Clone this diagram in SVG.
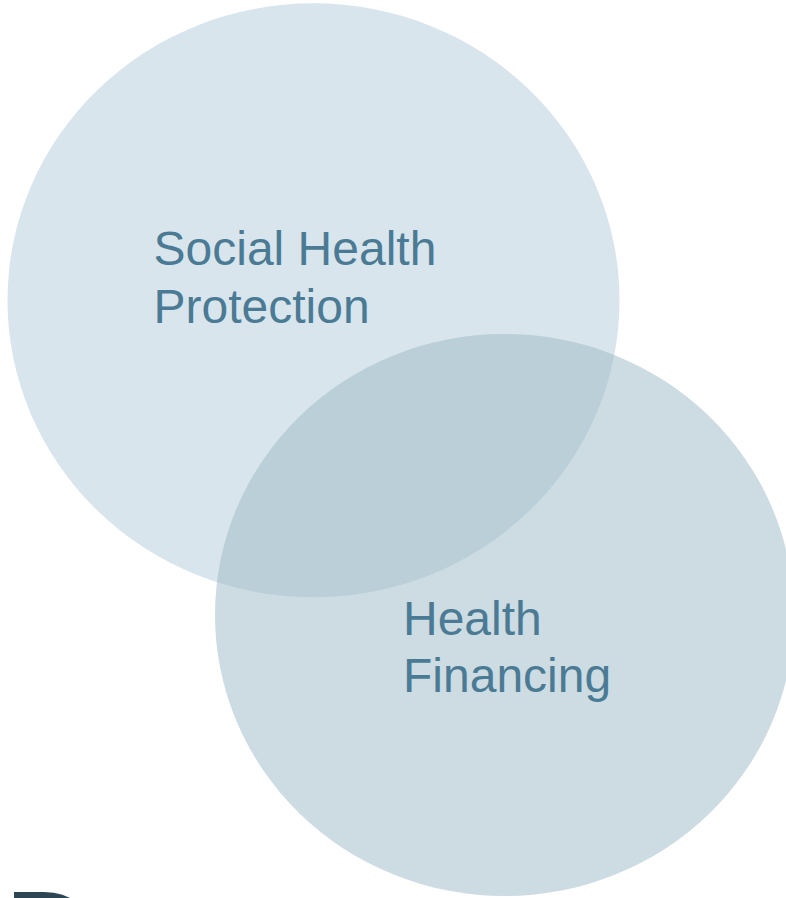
<svg xmlns="http://www.w3.org/2000/svg" width="786" height="898" viewBox="0 0 786 898">
<style>
.lbl{font-family:"Liberation Sans",Arial,sans-serif;font-size:48px;fill:#4b7b94}
.big{font-family:"Liberation Sans",Arial,sans-serif;font-size:120px;font-weight:bold;fill:#2e4654}
</style>
<defs>
<clipPath id="c2"><ellipse cx="504.5" cy="615" rx="289.5" ry="281"/></clipPath>
</defs>
<rect width="786" height="898" fill="#ffffff"/>
<g id="social-health-protection">
<ellipse cx="313.5" cy="300.3" rx="306" ry="297" fill="#d8e5ec"/>
</g>
<g id="health-financing">
<ellipse cx="504.5" cy="615" rx="289.5" ry="281" fill="#cddbe3"/>
</g>
<g id="overlap">
<ellipse cx="313.5" cy="300.3" rx="306" ry="297" fill="#bacfd8" clip-path="url(#c2)"/>
</g>
<g id="labels">
<text class="lbl" x="153.5" y="265">Social Health</text>
<text class="lbl" x="153.5" y="323">Protection</text>
<text class="lbl" x="403" y="635">Health</text>
<text class="lbl" x="403" y="692">Financing</text>
</g>
<text class="big" x="6" y="975">D</text>
</svg>
